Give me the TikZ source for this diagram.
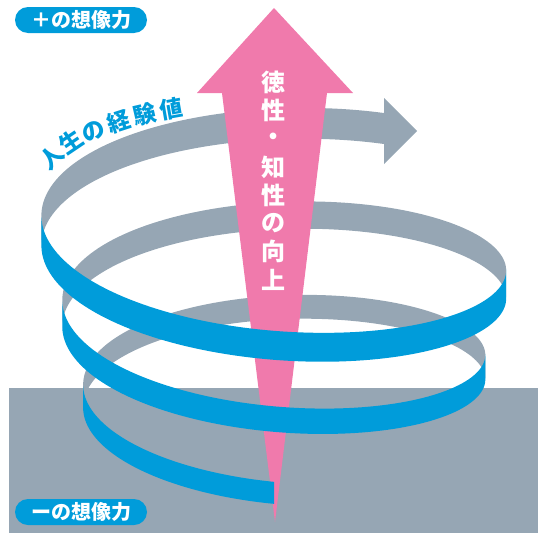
\documentclass[tikz,border=0pt]{standalone}
\usepackage{fontspec}
\newfontfamily\cjk{Noto Sans CJK JP}
\definecolor{ribgray}{RGB}{150,166,180}
\definecolor{ribblue}{RGB}{0,156,218}
\definecolor{uppink}{RGB}{240,122,172}

% one piece of the rising spiral ribbon, from angle #1 to angle #2
\newcommand\ribbonband[3]{%
  \fill[#3] plot[domain=#1:#2,samples=90,variable=\t] ({hx(\t)},{hy(\t)-hh(\t)})
    -- plot[domain=#1:#2,samples=90,variable=\t] ({hx(#1+#2-\t)},{hy(#1+#2-\t)+hh(#1+#2-\t)})
    -- cycle;}

\begin{document}
\begin{tikzpicture}[x=1pt,y=-1pt,
  declare function={
    hx(\a)=279+(185.4+0.058*\a)*cos(\a);
    hy(\a)=444-0.23*\a+(70+0.025*(\a-90))*sin(\a)+5*cos(\a);
    hh(\a)=(22+0.0097*(\a-90))/2;
  },
  vchar/.style={text=white, inner sep=0pt, font=\cjk\bfseries\fontsize{24}{24}\selectfont},
  curvechar/.style={text=ribblue, inner sep=0pt, font=\cjk\bfseries\fontsize{23}{23}\selectfont},
  pill/.style={fill=ribblue, rounded corners=13pt, minimum width=132pt, minimum height=26pt,
    inner sep=0pt, text=white, font=\cjk\bfseries\fontsize{20}{20}\selectfont}]
\useasboundingbox (0,0) rectangle (538,533);

% ground
\fill[ribgray] (9,388) rectangle (538,533);

% back halves of the spiral
\ribbonband{180}{360}{ribgray}
\ribbonband{540}{720}{ribgray}
\ribbonband{900}{1016}{ribgray}
\fill[ribgray] (384,98) -- (417,131) -- (384,164) -- cycle;

% rising arrow
\fill[uppink] (274,8) -- (353,93) -- (327,93) -- (275,522) -- (222,93) -- (197,93) -- cycle;
\foreach \c [count=\i from 0] in {徳,性,・,知,性,の,向,上}
  \node[vchar] (v\i) at (273,{82.5+28.2*\i}) {\c};

% front halves of the spiral
\ribbonband{91.5}{180}{ribblue}
\ribbonband{360}{540}{ribblue}
\ribbonband{720}{900}{ribblue}

% label along the spiral
\foreach \c/\px/\py/\r [count=\i] in {人/51.5/157.5/44,生/71/141.5/34,の/93.5/131/25,経/118.5/121.5/18,験/145/114.5/13,値/171/108.5/10}
  \node[curvechar, rotate=\r] (e\i) at (\px,\py) {\c};

% imagination labels
\node[pill] (plus) at (81,20) {＋の想像力};
\node[pill] (minus) at (81,512) {ーの想像力};
\end{tikzpicture}
\end{document}
